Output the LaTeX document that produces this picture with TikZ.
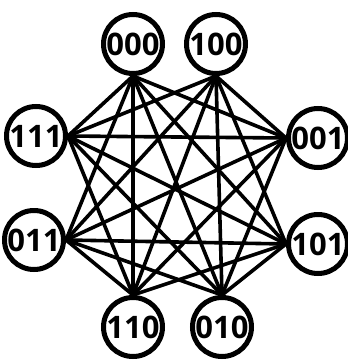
\documentclass[tikz,border=0pt]{standalone}
\usepackage{fontspec}
\setmainfont{Open Sans}
\usetikzlibrary{backgrounds}
\begin{document}
\begin{tikzpicture}[x=1pt,y=-1pt,
  vtx/.style={circle,draw=black,line width=5pt,fill=white,minimum size=59pt,inner sep=0pt,
    font=\fontsize{31}{31}\selectfont\bfseries},
  edge/.style={line width=3.6pt,black}]
\useasboundingbox (0,0) rectangle (348,362);
\node[vtx] (n000) at (133,44) {000};
\node[vtx] (n100) at (216,44) {100};
\node[vtx] (n111) at (36,136) {111};
\node[vtx] (n001) at (318,138) {001};
\node[vtx] (n011) at (34,240) {011};
\node[vtx] (n101) at (318,244) {101};
\node[vtx] (n110) at (133,327) {110};
\node[vtx] (n010) at (222,327) {010};
\begin{pgfonlayer}{background}
\foreach \a [count=\i] in {n000.south,n100.south,n111.east,n011.east,n001.west,n101.west,n110.north,n010.north}{
  \foreach \b [count=\j] in {n000.south,n100.south,n111.east,n011.east,n001.west,n101.west,n110.north,n010.north}{
    \pgfmathtruncatemacro{\pairfirst}{int((\i+1)/2)}
    \pgfmathtruncatemacro{\pairsecond}{int((\j+1)/2)}
    \ifnum\j>\i \ifnum\pairfirst=\pairsecond\else \draw[edge] (\a) -- (\b); \fi\fi
  }
}
\end{pgfonlayer}
\end{tikzpicture}
\end{document}
